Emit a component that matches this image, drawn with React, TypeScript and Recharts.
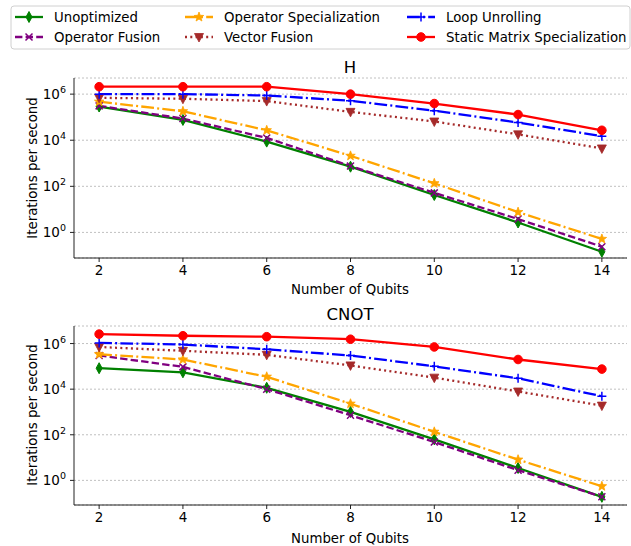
import React from 'react';
import { LineChart, Line, XAxis, YAxis, CartesianGrid } from 'recharts';

const qubits = [2, 4, 6, 8, 10, 12, 14];
const xTicks = [2, 4, 6, 8, 10, 12, 14];
const yTicks = [1, 100, 10000, 1000000];

const seriesNames = [
  'Unoptimized',
  'Operator Fusion',
  'Operator Specialization',
  'Vector Fusion',
  'Loop Unrolling',
  'Static Matrix Specialization',
];

// H gate, iterations per second
const hUnoptimized = [2.9e5, 7.6e4, 8.7e3, 710, 42, 2.7, 0.145];
const hOpFusion = [3.1e5, 8.7e4, 1.26e4, 760, 52, 3.8, 0.24];
const hOpSpecial = [4.7e5, 1.8e5, 2.7e4, 2100, 135, 7.6, 0.52];
const hVecFusion = [6.9e5, 6.3e5, 5.0e5, 1.7e5, 6.5e4, 1.8e4, 4400];
const hLoopUnroll = [1.0e6, 1.0e6, 8.7e5, 5.2e5, 1.9e5, 5.9e4, 1.5e4];
const hStaticMatrix = [2.1e6, 2.1e6, 2.1e6, 1.0e6, 3.9e5, 1.3e5, 2.7e4];

// CNOT gate, iterations per second
const cUnoptimized = [8.3e4, 5.5e4, 1.15e4, 1000, 63, 3.5, 0.19];
const cOpFusion = [3.0e5, 9.5e4, 1.0e4, 720, 48, 2.8, 0.19];
const cOpSpecial = [3.4e5, 2.0e5, 3.5e4, 2300, 135, 8.1, 0.55];
const cVecFusion = [7.1e5, 4.8e5, 3.2e5, 1.1e5, 3.2e4, 7900, 1900];
const cLoopUnroll = [1.07e6, 9.1e5, 5.6e5, 3.0e5, 1.0e5, 3.0e4, 4900];
const cStaticMatrix = [2.6e6, 2.2e6, 2.0e6, 1.55e6, 7.1e5, 2.0e5, 7.6e4];

const keys = ['unopt', 'fusion', 'special', 'vec', 'loop', 'static'];

const styles = [
  { color: '#008000', dash: undefined, marker: 'diamond' },
  { color: '#800080', dash: '7.4 3.2', marker: 'x' },
  { color: '#FFA500', dash: '12.8 3.2 2 3.2', marker: 'star' },
  { color: '#A52A2A', dash: '2 3.3', marker: 'tri' },
  { color: '#0000FF', dash: '12.8 3.2 2 3.2', marker: 'plus' },
  { color: '#FF0000', dash: undefined, marker: 'circle' },
];

function buildRows(cols: number[][]) {
  return qubits.map((q, i) => {
    const row: any = { qubits: q };
    keys.forEach((k, j) => (row[k] = cols[j][i]));
    return row;
  });
}

const hData = buildRows([hUnoptimized, hOpFusion, hOpSpecial, hVecFusion, hLoopUnroll, hStaticMatrix]);
const cnotData = buildRows([cUnoptimized, cOpFusion, cOpSpecial, cVecFusion, cLoopUnroll, cStaticMatrix]);

const FONT = '"DejaVu Sans", sans-serif';

function Marker({ kind, cx, cy, color }: { kind: string; cx: number; cy: number; color: string }) {
  if (cx == null || cy == null) return null;
  switch (kind) {
    case 'diamond':
      return <polygon points={`${cx},${cy - 5.5} ${cx + 3},${cy} ${cx},${cy + 5.5} ${cx - 3},${cy}`} fill={color} stroke={color} strokeWidth={1} />;
    case 'x':
      return <path d={`M${cx - 3.5},${cy - 3.5}L${cx + 3.5},${cy + 3.5}M${cx - 3.5},${cy + 3.5}L${cx + 3.5},${cy - 3.5}`} stroke={color} strokeWidth={1.5} />;
    case 'star': {
      const pts: string[] = [];
      for (let i = 0; i < 10; i++) {
        const r = i % 2 === 0 ? 5 : 2.1;
        const a = -Math.PI / 2 + (i * Math.PI) / 5;
        pts.push(`${cx + r * Math.cos(a)},${cy + r * Math.sin(a)}`);
      }
      return <polygon points={pts.join(' ')} fill={color} stroke={color} strokeWidth={0.8} />;
    }
    case 'tri':
      return <polygon points={`${cx - 4.5},${cy - 3.5} ${cx + 4.5},${cy - 3.5} ${cx},${cy + 5}`} fill={color} stroke={color} strokeWidth={0.8} />;
    case 'plus':
      return <path d={`M${cx - 4.5},${cy}L${cx + 4.5},${cy}M${cx},${cy - 4.5}L${cx},${cy + 4.5}`} stroke={color} strokeWidth={1.5} />;
    default:
      return <circle cx={cx} cy={cy} r={4.3} fill={color} stroke={color} />;
  }
}

const LogTick = (props: any) => {
  const { x, y, payload } = props;
  const exp = Math.round(Math.log10(payload.value));
  return (
    <text x={x} y={y + 5} textAnchor="end" fontSize={13.5} fill="#000" fontFamily={FONT}>
      10<tspan dy={-6} fontSize={9.5}>{exp}</tspan>
    </text>
  );
};

function Panel({ data, domain, height, top, plotTop, xHeight }: any) {
  return (
    <div style={{ position: 'absolute', left: 0, top }}>
      <LineChart width={631} height={height} data={data} margin={{ top: plotTop, right: 4, bottom: 0, left: 0 }}>
        <CartesianGrid vertical={false} stroke="#b0b0b0" strokeWidth={0.8} strokeDasharray="2 2" />
        <XAxis
          dataKey="qubits"
          type="number"
          domain={[1.4, 14.6]}
          ticks={xTicks}
          height={xHeight}
          tickSize={4}
          tickMargin={3}
          tick={{ fontSize: 13.5, fill: '#000', fontFamily: FONT }}
          axisLine={{ stroke: '#222' }}
          tickLine={{ stroke: '#222' }}
        />
        <XAxis xAxisId="top" orientation="top" type="number" domain={[1.4, 14.6]} height={0} tick={false} tickLine={false} axisLine={{ stroke: '#222' }} />
        <YAxis
          scale="log"
          type="number"
          domain={domain}
          allowDataOverflow
          ticks={yTicks}
          width={74}
          tickSize={4}
          tickMargin={4}
          tick={<LogTick />}
          axisLine={{ stroke: '#222' }}
          tickLine={{ stroke: '#222' }}
        />
        <YAxis yAxisId="right" orientation="right" type="number" domain={[0, 1]} width={0} tick={false} tickLine={false} axisLine={{ stroke: '#222' }} />
        {keys.map((k, i) => (
          <Line
            key={k}
            dataKey={k}
            name={seriesNames[i]}
            stroke={styles[i].color}
            strokeWidth={2.3}
            strokeDasharray={styles[i].dash}
            isAnimationActive={false}
            dot={(p: any) => <Marker key={`${k}-${p.index}`} kind={styles[i].marker} cx={p.cx} cy={p.cy} color={styles[i].color} />}
          />
        ))}
      </LineChart>
    </div>
  );
}

function Legend() {
  const handleX = [15, 185, 407];
  const textX = [54, 224, 446];
  const rowY = [17, 37];
  return (
    <svg width={631} height={52} style={{ position: 'absolute', left: 0, top: 0 }}>
      <rect x={11} y={6} width={619} height={43} rx={3} fill="#fff" stroke="#d0d0d0" />
      {seriesNames.map((name, i) => {
        const col = Math.floor(i / 2);
        const y = rowY[i % 2];
        const x0 = handleX[col];
        return (
          <g key={name}>
            <line x1={x0} x2={x0 + 28} y1={y} y2={y} stroke={styles[i].color} strokeWidth={2.3} strokeDasharray={styles[i].dash} />
            <Marker kind={styles[i].marker} cx={x0 + 14} cy={y} color={styles[i].color} />
            <text x={textX[col]} y={y + 4.7} fontSize={13.3} fontFamily={FONT} fill="#000">{name}</text>
          </g>
        );
      })}
    </svg>
  );
}

const textStyle: React.CSSProperties = { position: 'absolute', fontFamily: FONT, color: '#000', whiteSpace: 'nowrap' };

export default function App() {
  return (
    <div style={{ position: 'absolute', left: 0, top: 0, width: 631, height: 546, background: '#fff', overflow: 'hidden' }}>
      <Panel data={hData} domain={[0.0776, 5.01e6]} height={290} top={0} plotTop={78} xHeight={32} />
      <Panel data={cnotData} domain={[0.0832, 5.89e6]} height={256} top={290} plotTop={36} xHeight={41} />
      <Legend />
      <div style={{ ...textStyle, left: 350, top: 67, fontSize: 16.5, transform: 'translate(-50%, -50%)' }}>H</div>
      <div style={{ ...textStyle, left: 350, top: 314, fontSize: 16.5, transform: 'translate(-50%, -50%)' }}>CNOT</div>
      <div style={{ ...textStyle, left: 350, top: 289, fontSize: 13.3, transform: 'translate(-50%, -50%)' }}>Number of Qubits</div>
      <div style={{ ...textStyle, left: 350, top: 538, fontSize: 13.3, transform: 'translate(-50%, -50%)' }}>Number of Qubits</div>
      <div style={{ ...textStyle, left: 32, top: 168, fontSize: 13.3, transform: 'translate(-50%, -50%) rotate(-90deg)' }}>Iterations per second</div>
      <div style={{ ...textStyle, left: 32, top: 415, fontSize: 13.3, transform: 'translate(-50%, -50%) rotate(-90deg)' }}>Iterations per second</div>
    </div>
  );
}
